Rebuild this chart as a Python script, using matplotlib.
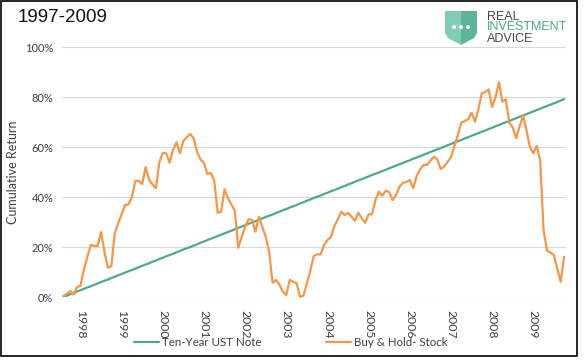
import matplotlib
matplotlib.use("Agg")
from matplotlib import pyplot as plt
from matplotlib.patches import Rectangle, Polygon, Circle

# monthly cumulative returns, %
ust_note = [0.0, 0.5, 1.1, 1.6, 2.2, 2.7, 3.3, 3.8, 4.3, 4.9,
            5.4, 6.0, 6.5, 7.0, 7.6, 8.1, 8.7, 9.2, 9.8, 10.3,
            10.8, 11.4, 11.9, 12.5, 13.0, 13.5, 14.1, 14.6, 15.2, 15.7,
            16.3, 16.8, 17.3, 17.9, 18.4, 19.0, 19.5, 20.0, 20.6, 21.1,
            21.7, 22.2, 22.8, 23.3, 23.8, 24.4, 24.9, 25.5, 26.0, 26.5,
            27.1, 27.6, 28.2, 28.7, 29.3, 29.8, 30.3, 30.9, 31.4, 32.0,
            32.5, 33.0, 33.6, 34.1, 34.7, 35.2, 35.8, 36.3, 36.8, 37.4,
            37.9, 38.5, 39.0, 39.6, 40.1, 40.6, 41.2, 41.7, 42.3, 42.8,
            43.3, 43.9, 44.4, 45.0, 45.5, 46.1, 46.6, 47.1, 47.7, 48.2,
            48.8, 49.3, 49.8, 50.4, 50.9, 51.5, 52.0, 52.6, 53.1, 53.6,
            54.2, 54.7, 55.3, 55.8, 56.3, 56.9, 57.4, 58.0, 58.5, 59.1,
            59.6, 60.1, 60.7, 61.2, 61.8, 62.3, 62.8, 63.4, 63.9, 64.5,
            65.0, 65.6, 66.1, 66.6, 67.2, 67.7, 68.3, 68.8, 69.4, 69.9,
            70.4, 71.0, 71.5, 72.1, 72.6, 73.1, 73.7, 74.2, 74.8, 75.3,
            75.9, 76.4, 76.9, 77.5, 78.0, 78.6, 79.1]

buy_hold = [0.4, 1.2, 2.4, 1.0, 4.0, 4.5, 11.0, 16.0, 20.8, 20.5,
            20.4, 26.0, 18.0, 11.7, 12.4, 25.5, 29.5, 33.0, 36.8, 37.0,
            40.0, 46.5, 46.4, 45.2, 52.0, 47.0, 45.0, 43.5, 54.0, 57.7,
            57.5, 53.7, 59.0, 61.9, 57.5, 62.5, 63.9, 65.2, 63.5, 58.0,
            55.0, 53.7, 49.2, 49.7, 46.5, 33.7, 34.1, 43.1, 39.5, 37.0,
            34.5, 19.7, 24.0, 28.0, 31.1, 30.8, 26.1, 32.1, 28.1, 24.1,
            18.1, 5.7, 6.8, 5.0, 2.1, 0.8, 6.8, 6.1, 5.5, 0.1,
            0.5, 5.5, 10.5, 16.4, 17.1, 17.0, 20.8, 22.8, 23.9, 28.4,
            31.0, 34.1, 32.8, 33.7, 32.1, 30.5, 33.7, 31.5, 29.7, 33.1,
            33.1, 38.8, 42.1, 40.5, 42.5, 42.0, 38.8, 40.8, 44.1, 45.7,
            46.0, 46.8, 43.5, 48.4, 51.0, 52.8, 52.8, 54.5, 56.1, 55.1,
            51.2, 52.1, 54.0, 55.9, 60.4, 64.8, 69.7, 70.4, 71.1, 73.7,
            70.1, 75.1, 81.5, 82.0, 83.0, 76.0, 80.0, 85.9, 78.1, 79.1,
            69.7, 67.9, 63.5, 68.2, 72.8, 66.8, 60.0, 57.5, 60.4, 54.8,
            26.8, 18.5, 17.8, 16.8, 11.4, 6.1, 16.1]

year_labels = ["1998", "1999", "2000", "2001", "2002", "2003",
               "2004", "2005", "2006", "2007", "2008", "2009"]
year_pos = [5, 17, 29, 41, 53, 65, 77, 89, 101, 113, 125, 137]

TEAL = "#4fa88c"
ORANGE = "#f79646"
TXT = "#404040"
FONT = "Lato"

fig = plt.figure(figsize=(5.85, 3.63), dpi=100)
ax = fig.add_axes([0.1053, 0.1818, 0.862, 0.6887])

months = range(len(ust_note))
ax.plot(months, ust_note, color=TEAL, lw=1.6, label="Ten-Year UST Note",
        solid_capstyle="round", zorder=3)
ax.plot(months, buy_hold, color=ORANGE, lw=1.6, label="Buy & Hold- Stock",
        solid_capstyle="round", clip_on=False, zorder=4)

ax.set_xlim(-0.5, len(ust_note) - 0.5)
ax.set_ylim(0, 100)
ax.set_yticks([0, 20, 40, 60, 80, 100])
ax.set_yticklabels([f"{v}%" for v in [0, 20, 40, 60, 80, 100]],
                   fontfamily=FONT, fontsize=8, color=TXT)
ax.set_xticks(year_pos)
ax.set_xticklabels(year_labels, rotation=270, fontfamily=FONT,
                   fontsize=8.8, color=TXT)
ax.tick_params(axis="both", length=0)
ax.tick_params(axis="y", pad=6)
ax.tick_params(axis="x", pad=9)
ax.grid(axis="y", color="#d9d9d9", lw=0.8)
ax.set_axisbelow(True)
for s in ax.spines.values():
    s.set_visible(False)

ax.set_ylabel("Cumulative Return", fontfamily=FONT, fontsize=9,
              color=TXT, labelpad=4)

fig.legend(loc="center", bbox_to_anchor=(0.497, 0.056), ncol=2,
           frameon=False, prop={"family": FONT, "size": 8.3},
           handlelength=2.2, handletextpad=0.25, columnspacing=5.6,
           labelcolor=TXT)

fig.text(18 / 585, 1 - 18 / 363, "1997-2009", fontfamily="Liberation Sans",
         fontsize=13.5, va="center", ha="left", color="#111111")

# logo
shield_l = [(445, 11), (461, 11), (461, 45), (448, 38), (445, 33)]
shield_r = [(461, 11), (477, 11), (477, 33), (474, 38), (461, 45)]
def fxy(pts):
    return [(x / 585, 1 - y / 363) for x, y in pts]
fig.add_artist(Polygon(fxy(shield_l), closed=True, fc="#82ccb6", ec="none"))
fig.add_artist(Polygon(fxy(shield_r), closed=True, fc="#5cb49a", ec="none"))
for dx in (454, 461, 468):
    fig.add_artist(Circle((dx, 363 - 27), 2.0, fc="white", ec="none",
                          transform=None))
fig.text(487 / 585, 1 - 16.5 / 363, "REAL", fontfamily="Liberation Sans",
         fontsize=9, color="#4a4a4a", va="center")
fig.text(487 / 585, 1 - 27.5 / 363, "INVESTMENT", fontfamily="Liberation Sans",
         fontsize=9, color="#4aa68c", va="center")
fig.text(487 / 585, 1 - 38.5 / 363, "ADVICE", fontfamily="Liberation Sans",
         fontsize=9, color="#4a4a4a", va="center")

fig.add_artist(Rectangle((1 / 585, 7 / 363), 576 / 585, 355 / 363,
                         fill=False, ec="black", lw=1.2,
                         transform=fig.transFigure))

fig.savefig("out.png", dpi=100)
